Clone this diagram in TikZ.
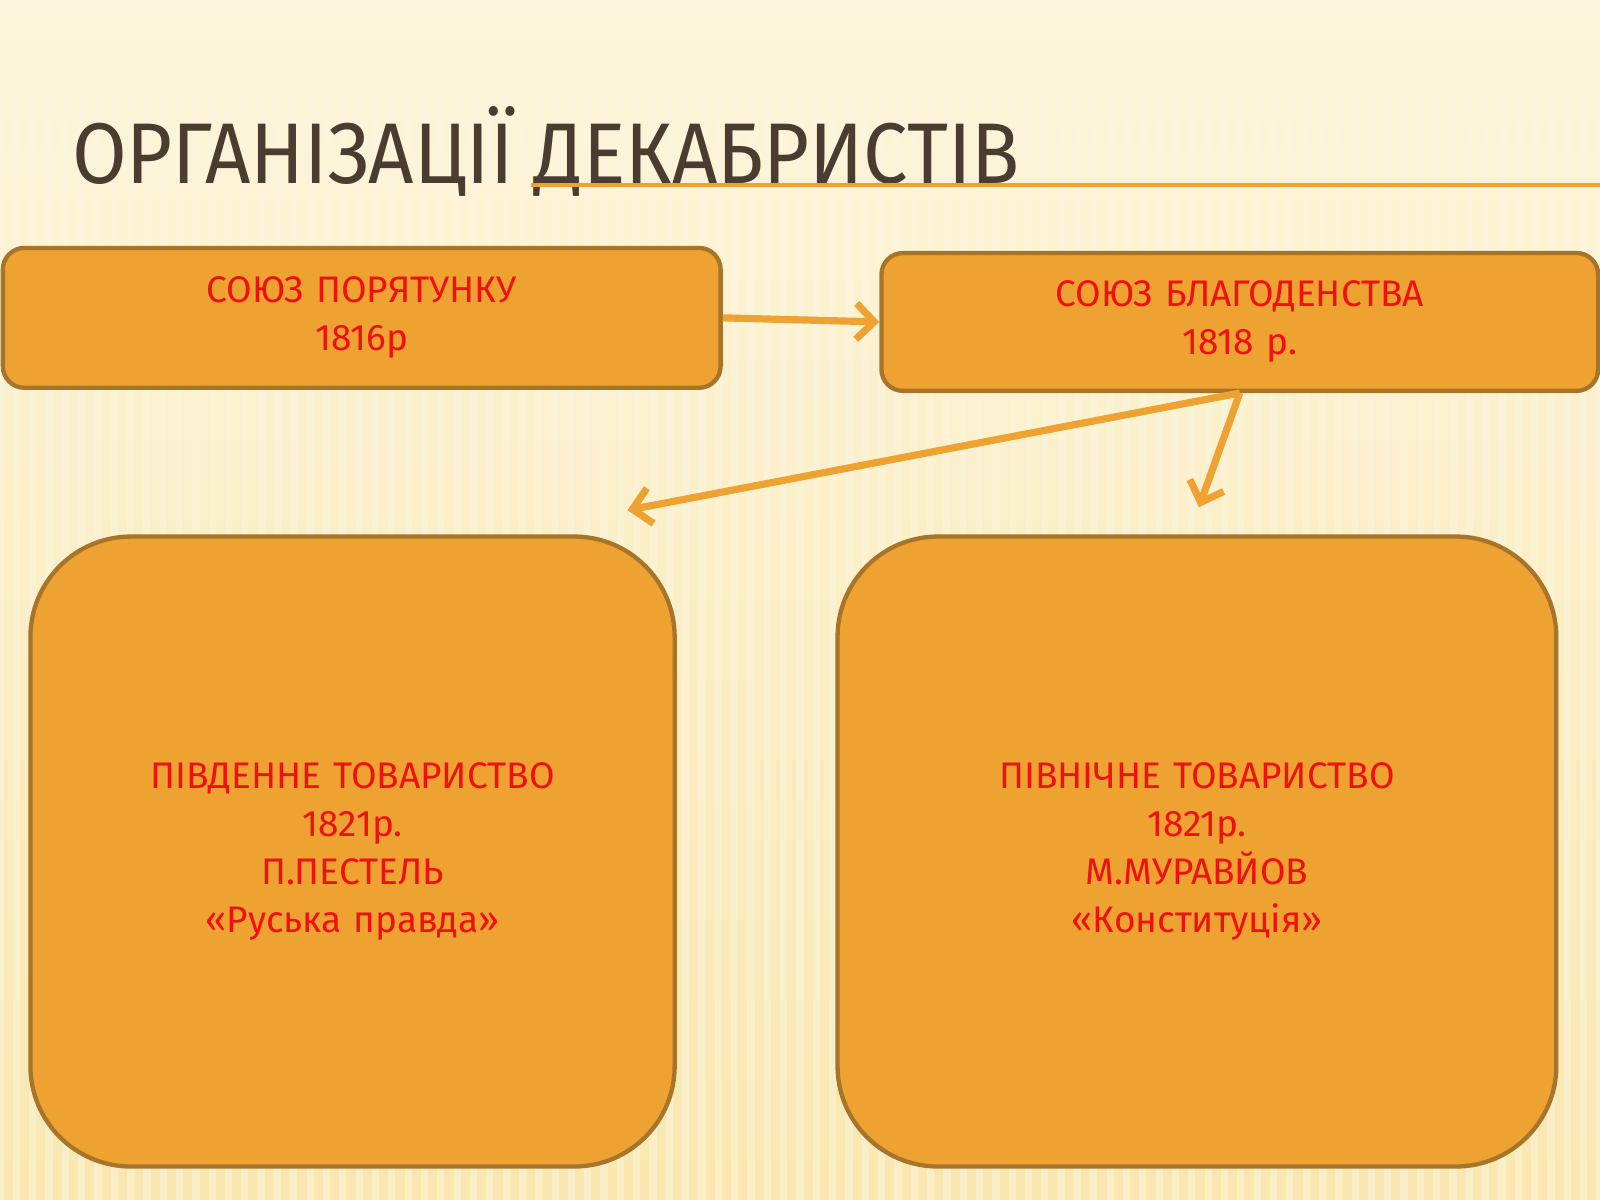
\documentclass[tikz,border=0pt]{standalone}
\usepackage{fontspec}
\setmainfont{Fira Sans}
\usetikzlibrary{arrows.meta}
\definecolor{boxfill}{HTML}{EDA232}
\definecolor{boxline}{HTML}{A8742A}
\definecolor{txtred}{HTML}{F01010}
\definecolor{titlec}{HTML}{4A3C30}
\definecolor{bgtop}{HTML}{FDF6DC}
\definecolor{bgbot}{HTML}{F8E7B0}
\tikzset{
  org/.style={draw=boxline, line width=1.2pt, fill=boxfill, text=txtred, align=center,
    font=\fontsize{10.3}{13.4}\selectfont, inner sep=0pt},
  arr/.style={draw=boxfill, line width=2pt, -{Straight Barb[length=5pt,width=10pt]}}
}
\begin{document}
\begin{tikzpicture}[x=0.01cm,y=-0.01cm]
\useasboundingbox (0,0) rectangle (1568,1176);
\shade[top color=bgtop, bottom color=bgbot] (0,0) rectangle (1568,1176);
\foreach \i in {0,16,...,1568} \draw[white!60!bgbot, line width=2pt, opacity=0.5] (\i,60) -- (\i,1176);
\node[anchor=base west, text=titlec, font=\fontsize{24}{24}\selectfont, xscale=0.92, inner sep=0pt] (title) at (70,180) {ОРГАНІЗАЦІЇ ДЕКАБРИСТІВ};
\draw[boxfill, line width=1.2pt] (520,181) -- (1568,181);
\node[org, rounded corners=6pt, minimum width=7.03cm, minimum height=1.37cm, text width=6.8cm] (a) at (354.5,311.5) {СОЮЗ ПОРЯТУНКУ\\1816р};
\node[org, rounded corners=6pt, minimum width=7.02cm, minimum height=1.35cm, text width=6.8cm] (b) at (1215,315.5) {СОЮЗ БЛАГОДЕНСТВА\\1818 р.};
\node[org, rounded corners=28pt, minimum width=6.31cm, minimum height=6.17cm, text width=6cm] (c) at (345.5,834.5) {ПІВДЕННЕ ТОВАРИСТВО\\1821р.\\П.ПЕСТЕЛЬ\\«Руська правда»};
\node[org, rounded corners=28pt, minimum width=7.04cm, minimum height=6.17cm, text width=6.8cm] (d) at (1173,834.5) {ПІВНІЧНЕ ТОВАРИСТВО\\1821р.\\М.МУРАВЙОВ\\«Конституція»};
\coordinate (p1) at (615,500);
\coordinate (p2) at (1175,497);
\draw[arr] (a.east) -- (b.west);
\draw[arr] (b.south) -- (p1);
\draw[arr] (b.south) -- (p2);
\end{tikzpicture}
\end{document}
